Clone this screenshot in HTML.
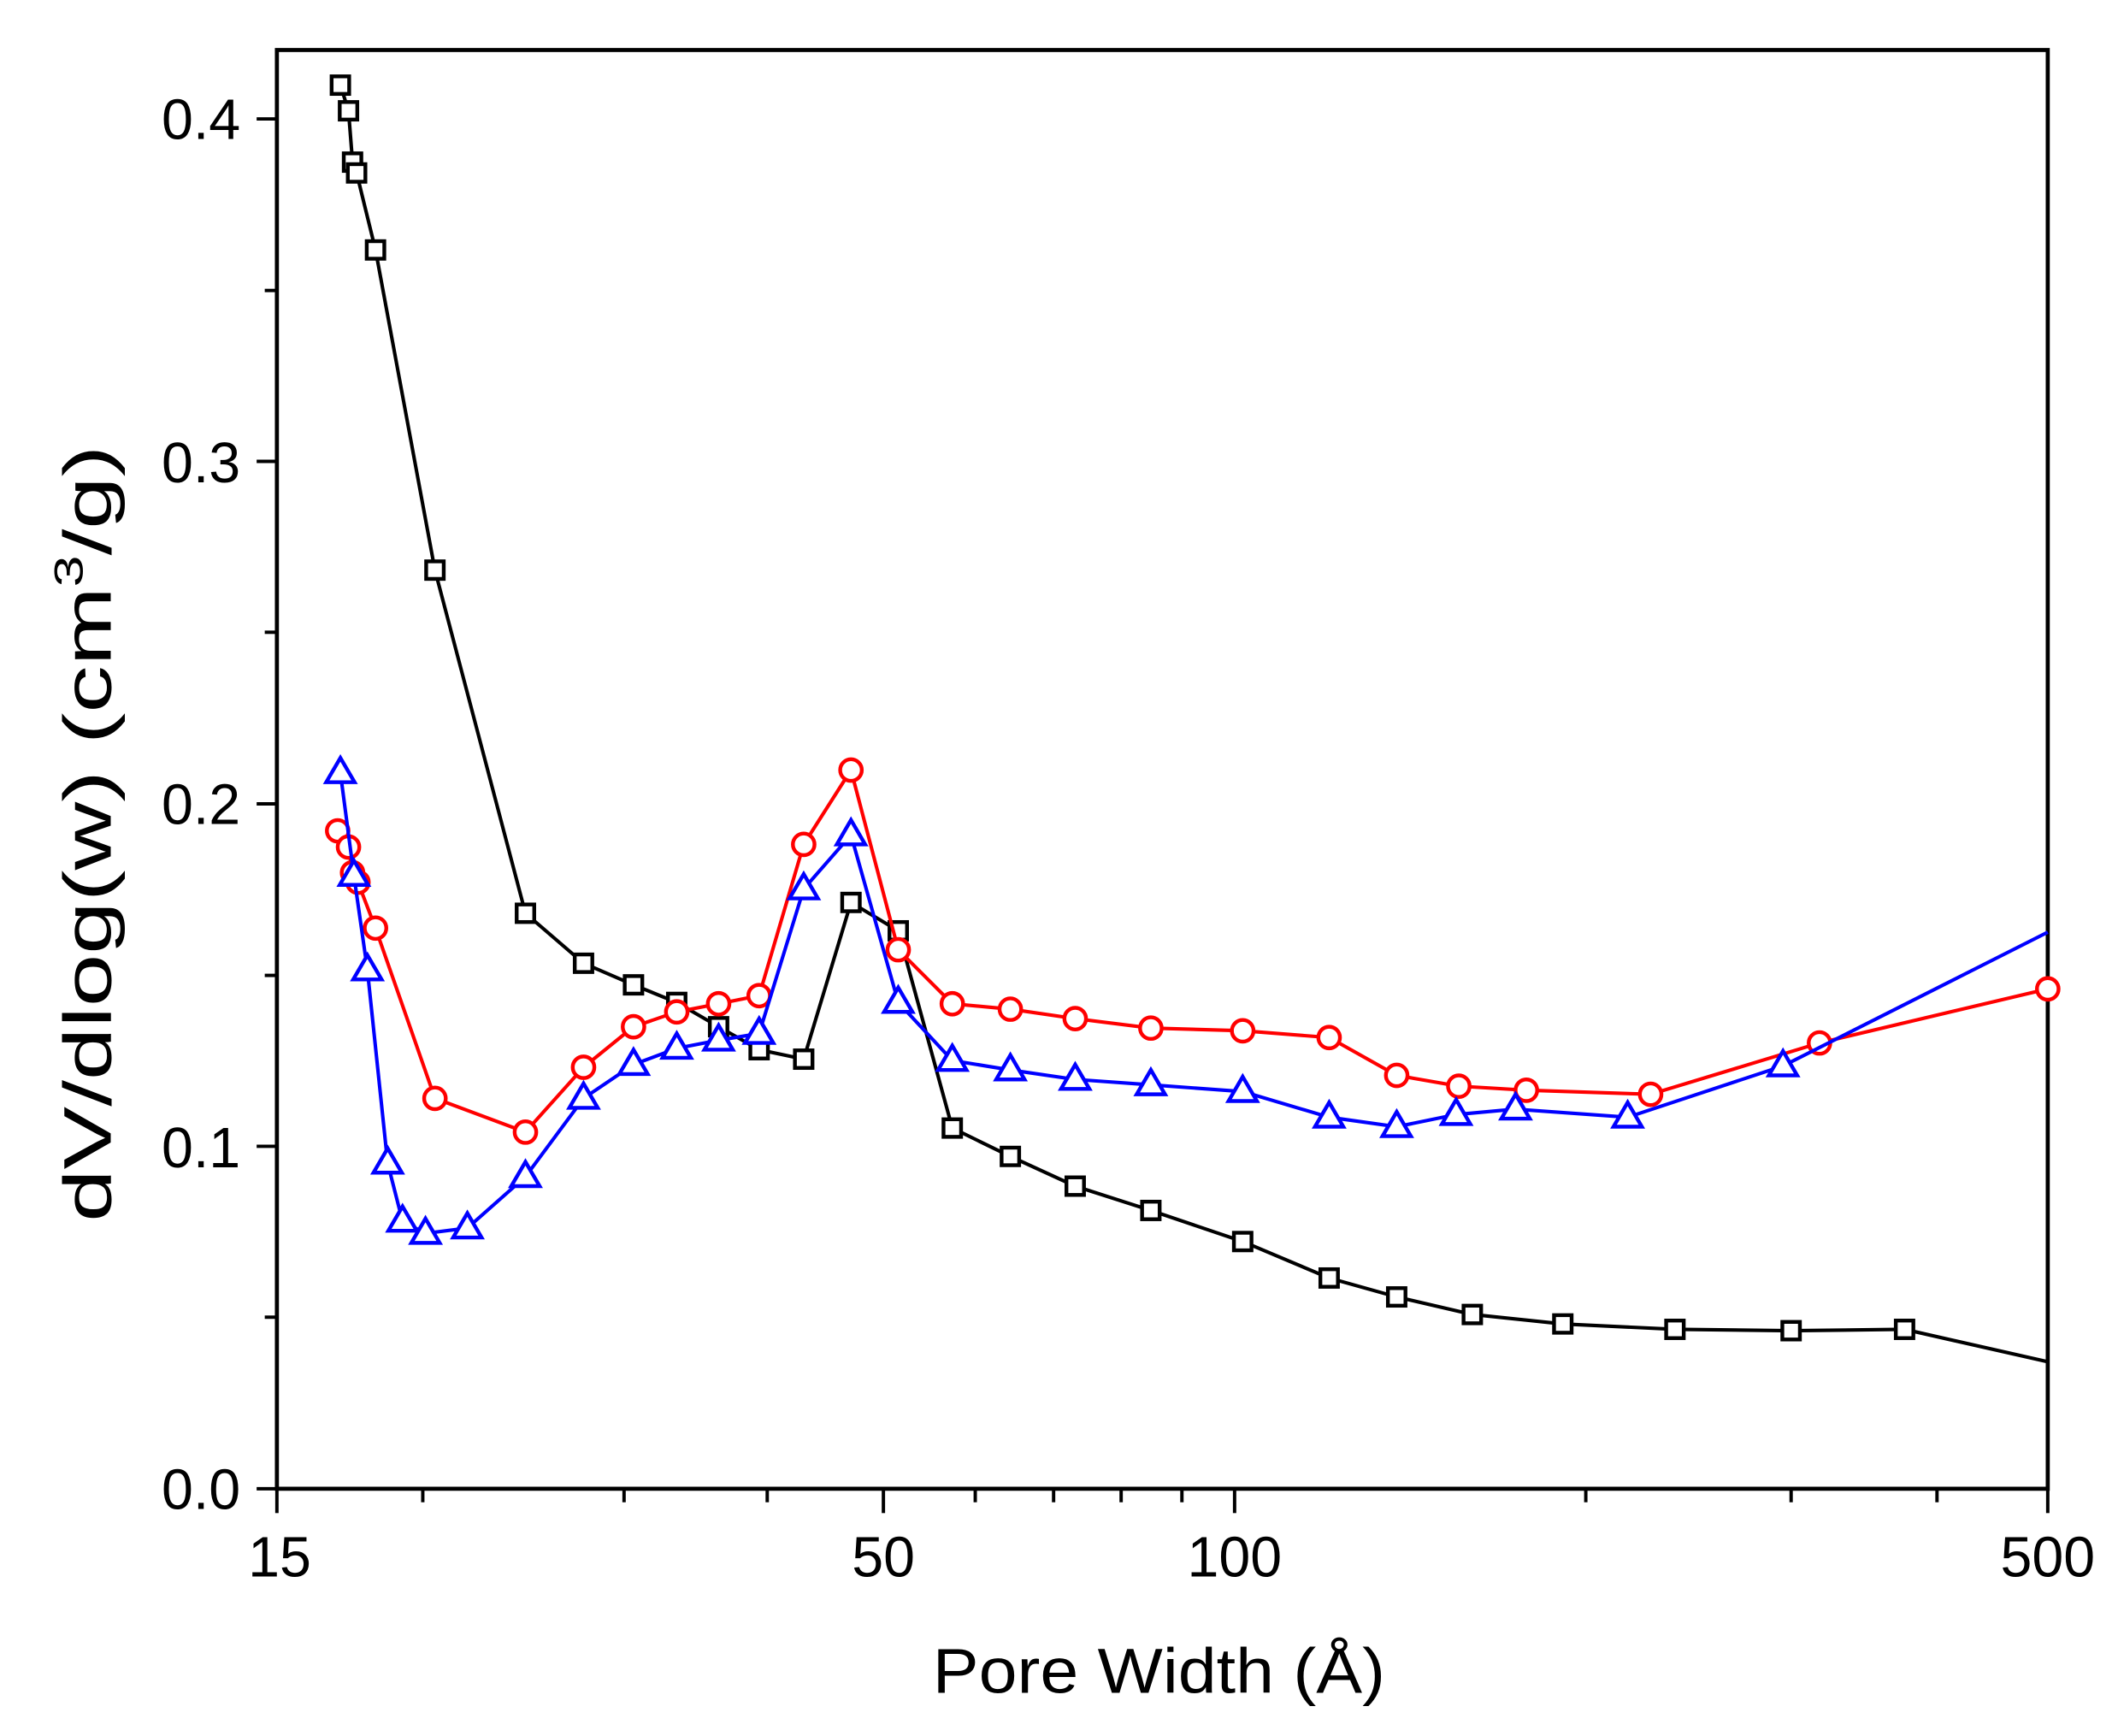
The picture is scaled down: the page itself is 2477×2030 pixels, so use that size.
<!DOCTYPE html>
<html><head><meta charset="utf-8"><style>
html,body{margin:0;padding:0;background:#fff;}
svg{display:block;}
</style></head><body>
<svg width="2477" height="2030" viewBox="0 0 1568 1285" xmlns="http://www.w3.org/2000/svg" font-family="Liberation Sans, Arial, sans-serif">
<rect width="1568" height="1285" fill="#fff"/>
<rect x="205" y="37" width="1311" height="1065" fill="none" stroke="#000" stroke-width="3"/>
<g stroke="#000" stroke-width="2.5">
<line x1="190" y1="1102" x2="205" y2="1102"/>
<line x1="190" y1="848.5" x2="205" y2="848.5"/>
<line x1="190" y1="595" x2="205" y2="595"/>
<line x1="190" y1="341.5" x2="205" y2="341.5"/>
<line x1="190" y1="88" x2="205" y2="88"/>
<line x1="196" y1="975" x2="205" y2="975"/>
<line x1="196" y1="722" x2="205" y2="722"/>
<line x1="196" y1="468" x2="205" y2="468"/>
<line x1="196" y1="215" x2="205" y2="215"/>
<line x1="205" y1="1102" x2="205" y2="1120"/>
<line x1="654" y1="1102" x2="654" y2="1120"/>
<line x1="914" y1="1102" x2="914" y2="1120"/>
<line x1="1516" y1="1102" x2="1516" y2="1120"/>
<line x1="313" y1="1102" x2="313" y2="1112"/>
<line x1="462" y1="1102" x2="462" y2="1112"/>
<line x1="568" y1="1102" x2="568" y2="1112"/>
<line x1="722" y1="1102" x2="722" y2="1112"/>
<line x1="780" y1="1102" x2="780" y2="1112"/>
<line x1="830" y1="1102" x2="830" y2="1112"/>
<line x1="875" y1="1102" x2="875" y2="1112"/>
<line x1="1174" y1="1102" x2="1174" y2="1112"/>
<line x1="1326" y1="1102" x2="1326" y2="1112"/>
<line x1="1434" y1="1102" x2="1434" y2="1112"/>
</g>
<g font-size="42" fill="#000" text-anchor="end">
<text x="178" y="1117">0.0</text>
<text x="178" y="864">0.1</text>
<text x="178" y="610">0.2</text>
<text x="178" y="357">0.3</text>
<text x="178" y="103">0.4</text>
</g>
<g font-size="42" fill="#000" text-anchor="middle">
<text x="207" y="1167">15</text>
<text x="654" y="1167">50</text>
<text x="914" y="1167">100</text>
<text x="1516" y="1167">500</text>
</g>
<text x="858" y="1253" font-size="47" text-anchor="middle" textLength="335" lengthAdjust="spacingAndGlyphs">Pore Width (Å)</text>
<text transform="translate(82,617) rotate(-90)" font-size="50" text-anchor="middle" textLength="575" lengthAdjust="spacingAndGlyphs">dV/dlog(w) (cm<tspan font-size="30" dy="-21">3</tspan><tspan dy="21">/g)</tspan></text>

<polyline fill="none" stroke="#000" stroke-width="2.6" points="252,63 258,82 261,120 264,128 278,185 322,422 389,676 432,713 469,729 501,742 532,760 562,777 595,784 630,668 665,689 705,835 748,856 796,878 852,896 920,919 984,946 1034,960 1090,973 1157,980 1240,984 1326,985 1410,984 1516,1008"/>
<g fill="#fff" stroke="#000" stroke-width="2.8">
<rect x="245.5" y="56.5" width="13" height="13"/><rect x="251.5" y="75.5" width="13" height="13"/><rect x="254.5" y="113.5" width="13" height="13"/><rect x="257.5" y="121.5" width="13" height="13"/><rect x="271.5" y="178.5" width="13" height="13"/><rect x="315.5" y="415.5" width="13" height="13"/><rect x="382.5" y="669.5" width="13" height="13"/><rect x="425.5" y="706.5" width="13" height="13"/><rect x="462.5" y="722.5" width="13" height="13"/><rect x="494.5" y="735.5" width="13" height="13"/><rect x="525.5" y="753.5" width="13" height="13"/><rect x="555.5" y="770.5" width="13" height="13"/><rect x="588.5" y="777.5" width="13" height="13"/><rect x="623.5" y="661.5" width="13" height="13"/><rect x="658.5" y="682.5" width="13" height="13"/><rect x="698.5" y="828.5" width="13" height="13"/><rect x="741.5" y="849.5" width="13" height="13"/><rect x="789.5" y="871.5" width="13" height="13"/><rect x="845.5" y="889.5" width="13" height="13"/><rect x="913.5" y="912.5" width="13" height="13"/><rect x="977.5" y="939.5" width="13" height="13"/><rect x="1027.5" y="953.5" width="13" height="13"/><rect x="1083.5" y="966.5" width="13" height="13"/><rect x="1150.5" y="973.5" width="13" height="13"/><rect x="1233.5" y="977.5" width="13" height="13"/><rect x="1319.5" y="978.5" width="13" height="13"/><rect x="1403.5" y="977.5" width="13" height="13"/>
</g>

<polyline fill="none" stroke="#f00" stroke-width="2.6" points="250,615 258,627 261,646 265,653 278,687 322,813 389,838 432,790 469,760 501,749 532,743 562,737 595,625 630,570 665,703 705,743 748,747 796,754 852,761 920,763 984,768 1034,796 1080,804 1130,807 1222,810 1347,772 1516,732"/>
<g fill="#fff" stroke="#f00" stroke-width="2.8">
<circle cx="250" cy="615" r="8"/><circle cx="258" cy="627" r="8"/><circle cx="261" cy="646" r="8"/><circle cx="265" cy="653" r="8"/><circle cx="278" cy="687" r="8"/><circle cx="322" cy="813" r="8"/><circle cx="389" cy="838" r="8"/><circle cx="432" cy="790" r="8"/><circle cx="469" cy="760" r="8"/><circle cx="501" cy="749" r="8"/><circle cx="532" cy="743" r="8"/><circle cx="562" cy="737" r="8"/><circle cx="595" cy="625" r="8"/><circle cx="630" cy="570" r="8"/><circle cx="665" cy="703" r="8"/><circle cx="705" cy="743" r="8"/><circle cx="748" cy="747" r="8"/><circle cx="796" cy="754" r="8"/><circle cx="852" cy="761" r="8"/><circle cx="920" cy="763" r="8"/><circle cx="984" cy="768" r="8"/><circle cx="1034" cy="796" r="8"/><circle cx="1080" cy="804" r="8"/><circle cx="1130" cy="807" r="8"/><circle cx="1222" cy="810" r="8"/><circle cx="1347" cy="772" r="8"/><circle cx="1516" cy="732" r="8"/>
</g>

<polyline fill="none" stroke="#00f" stroke-width="2.6" points="252,572 262,648 272,718 287,861 298,904 315,913 346,909 389,871 432,813 469,788 501,776 532,770 562,765 595,658 630,618 665,742 705,785 748,792 796,799 852,803 920,808 984,827 1034,834 1078,825 1122,821 1205,827 1320,789 1516,690"/>
<g fill="#fff" stroke="#00f" stroke-width="2.8">
<path d="M252,561 l10.5,18 h-21z"/><path d="M262,637 l10.5,18 h-21z"/><path d="M272,707 l10.5,18 h-21z"/><path d="M287,850 l10.5,18 h-21z"/><path d="M298,893 l10.5,18 h-21z"/><path d="M315,902 l10.5,18 h-21z"/><path d="M346,898 l10.5,18 h-21z"/><path d="M389,860 l10.5,18 h-21z"/><path d="M432,802 l10.5,18 h-21z"/><path d="M469,777 l10.5,18 h-21z"/><path d="M501,765 l10.5,18 h-21z"/><path d="M532,759 l10.5,18 h-21z"/><path d="M562,754 l10.5,18 h-21z"/><path d="M595,647 l10.5,18 h-21z"/><path d="M630,607 l10.5,18 h-21z"/><path d="M665,731 l10.5,18 h-21z"/><path d="M705,774 l10.5,18 h-21z"/><path d="M748,781 l10.5,18 h-21z"/><path d="M796,788 l10.5,18 h-21z"/><path d="M852,792 l10.5,18 h-21z"/><path d="M920,797 l10.5,18 h-21z"/><path d="M984,816 l10.5,18 h-21z"/><path d="M1034,823 l10.5,18 h-21z"/><path d="M1078,814 l10.5,18 h-21z"/><path d="M1122,810 l10.5,18 h-21z"/><path d="M1205,816 l10.5,18 h-21z"/><path d="M1320,778 l10.5,18 h-21z"/>
</g>
</svg>
</body></html>
